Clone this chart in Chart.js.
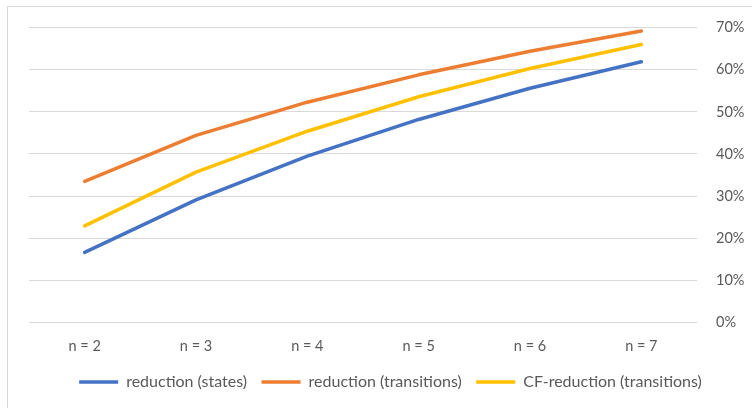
<!DOCTYPE html>
<html>
<head>
<meta charset="utf-8">
<script src="https://cdn.jsdelivr.net/npm/chart.js@4/dist/chart.umd.min.js"></script>
<style>
  html, body { margin: 0; padding: 0; background: #fff; }
  #wrap { position: relative; width: 752px; height: 408px; overflow: hidden; }
  #frame { position: absolute; left: 7px; top: 6px; width: 760px; height: 420px; border: 1px solid #d9d9d9; box-sizing: border-box; pointer-events: none; }
  canvas { position: absolute; left: 0; top: 0; }
</style>
</head>
<body>
<div id="wrap">
  <div id="frame"></div>
  <canvas id="c" width="752" height="408"></canvas>
</div>
<script>
const categories = ["n = 2", "n = 3", "n = 4", "n = 5", "n = 6", "n = 7"];
const reductionStates = [16.6, 29.1, 39.5, 48.2, 55.6, 61.9];
const reductionTransitions = [33.5, 44.4, 52.3, 58.8, 64.4, 69.2];
const cfReductionTransitions = [22.9, 35.7, 45.4, 53.6, 60.3, 66.0];
const yTicks = [0, 10, 20, 30, 40, 50, 60, 70];

const FONT = "Lato, 'Open Sans', sans-serif";
const TXT = '#595959';

function ds(label, data, color) {
  return {
    label, data,
    borderColor: color, backgroundColor: color,
    borderWidth: 3.5, borderCapStyle: 'round', borderJoinStyle: 'round',
    pointRadius: 0, pointHoverRadius: 0, tension: 0,
    pointStyle: 'line'
  };
}

new Chart(document.getElementById('c'), {
  type: 'line',
  data: {
    labels: categories,
    datasets: [
      ds('reduction (states)', reductionStates, '#4472C4'),
      ds('reduction (transitions)', reductionTransitions, '#ED7D31'),
      ds('CF-reduction (transitions)', cfReductionTransitions, '#FFC000')
    ]
  },
  options: {
    responsive: false,
    animation: false,
    devicePixelRatio: 1,
    layout: { padding: { left: 29, right: 0, top: 27, bottom: 8 } },
    plugins: {
      tooltip: { enabled: false },
      legend: {
        position: 'bottom',
        labels: {
          usePointStyle: true,
          pointStyleWidth: 39,
          boxHeight: 14,
          padding: 14.5,
          color: TXT,
          font: { family: FONT, size: 16 }
        }
      }
    },
    scales: {
      x: {
        offset: true,
        grid: { display: false, drawTicks: false },
        border: { display: false },
        ticks: { color: TXT, font: { family: FONT, size: 14.5 }, padding: 15, maxRotation: 0 },
        afterFit(s) { s.height = 37.2; }
      },
      y: {
        position: 'right',
        min: 0, max: 70,
        afterBuildTicks(s) { s.ticks = yTicks.map(v => ({ value: v })); },
        grid: { color: '#d9d9d9', lineWidth: 1, drawTicks: false },
        border: { display: false },
        ticks: {
          color: TXT, font: { family: FONT, size: 14.5 }, padding: 19,
          callback: v => v + '%'
        },
        afterFit(s) { s.width = 55; }
      }
    }
  }
});
</script>
</body>
</html>
